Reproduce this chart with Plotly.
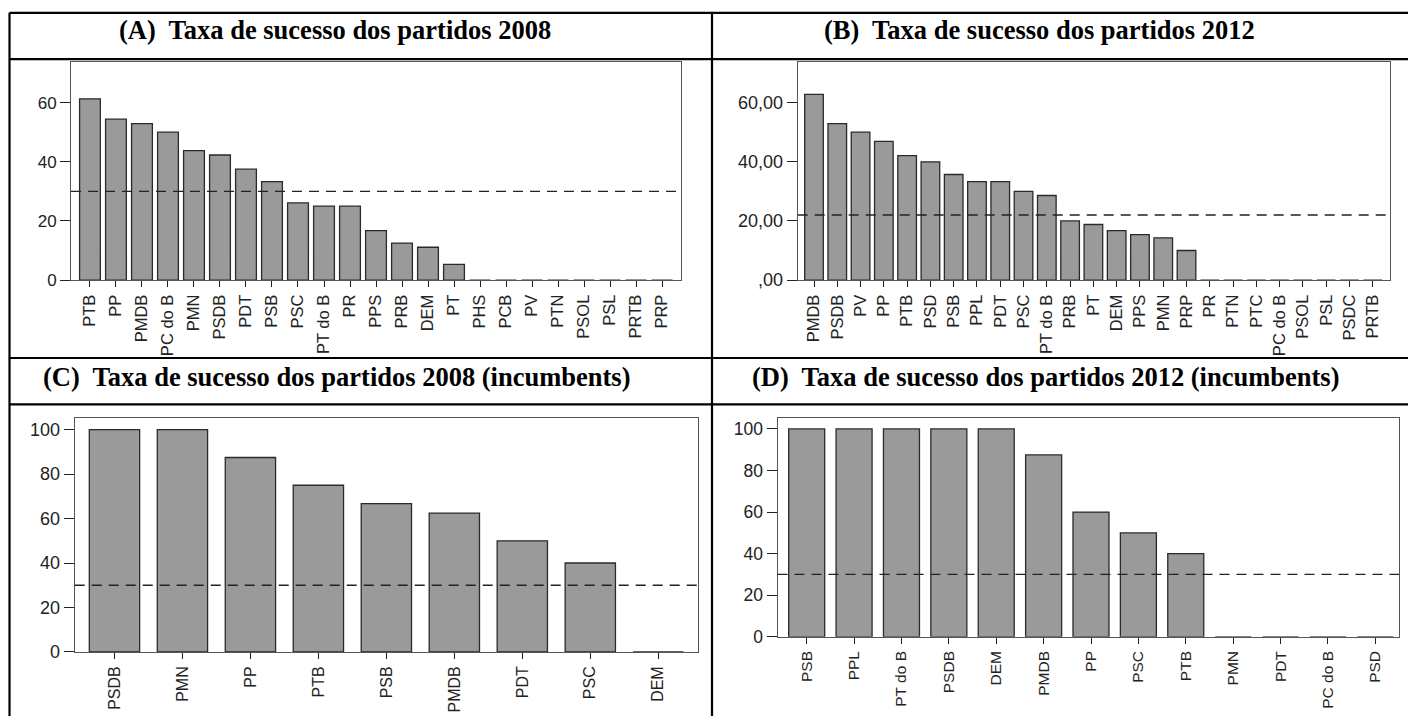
import plotly.graph_objects as go

W, H = 1408, 726

# ---------------- data ----------------
cats_a = ["PTB", "PP", "PMDB", "PC do B", "PMN", "PSDB", "PDT", "PSB", "PSC", "PT do B", "PR",
          "PPS", "PRB", "DEM", "PT", "PHS", "PCB", "PV", "PTN", "PSOL", "PSL", "PRTB", "PRP"]
vals_a = [61.3, 54.4, 52.9, 50.0, 43.8, 42.3, 37.5, 33.3, 26.1, 25.0, 25.0,
          16.7, 12.5, 11.1, 5.3, 0, 0, 0, 0, 0, 0, 0, 0]
ref_a = 30

cats_b = ["PMDB", "PSDB", "PV", "PP", "PTB", "PSD", "PSB", "PPL", "PDT", "PSC", "PT do B",
          "PRB", "PT", "DEM", "PPS", "PMN", "PRP", "PR", "PTN", "PTC", "PC do B", "PSOL",
          "PSL", "PSDC", "PRTB"]
vals_b = [62.8, 52.9, 50.0, 46.9, 42.1, 40.0, 35.7, 33.3, 33.3, 30.0, 28.6,
          20.0, 18.8, 16.7, 15.4, 14.3, 10.0, 0, 0, 0, 0, 0, 0, 0, 0]
ref_b = 22

cats_c = ["PSDB", "PMN", "PP", "PTB", "PSB", "PMDB", "PDT", "PSC", "DEM"]
vals_c = [100, 100, 87.5, 75.0, 66.7, 62.5, 50.0, 40.0, 0]
ref_c = 30

cats_d = ["PSB", "PPL", "PT do B", "PSDB", "DEM", "PMDB", "PP", "PSC", "PTB",
          "PMN", "PDT", "PC do B", "PSD"]
vals_d = [100, 100, 100, 100, 100, 87.5, 60.0, 50.0, 40.0, 0, 0, 0, 0]
ref_d = 30

titles = ["(A)\u00a0 Taxa de sucesso dos partidos 2008",
          "(B)\u00a0 Taxa de sucesso dos partidos 2012",
          "(C)\u00a0 Taxa de sucesso dos partidos 2008 (incumbents)",
          "(D)\u00a0 Taxa de sucesso dos partidos 2012 (incumbents)"]

yticks_ab = [0, 20, 40, 60]
yticktext_b = [",00", "20,00", "40,00", "60,00"]
yticks_cd = [0, 20, 40, 60, 80, 100]

# ---------------- layout helpers ----------------
def px_x(x):
    return x / W

def px_y(y):
    return 1 - y / H

panels = [
    dict(c=cats_a, v=vals_a, r=ref_a, box=(71, 681, 63, 284), yr=73.7, pad=(0.73, 0.73),
         gap=0.2, xf=16.5, yf=17, tv=yticks_ab, tt=[str(t) for t in yticks_ab]),
    dict(c=cats_b, v=vals_b, r=ref_b, box=(797.7, 1390, 63, 284), yr=73.7, pad=(0.70, 0.74),
         gap=0.2, xf=16.5, yf=18, tv=yticks_ab, tt=yticktext_b),
    dict(c=cats_c, v=vals_c, r=ref_c, box=(74.7, 697.7, 424, 661), yr=105.2, pad=(0.585, 0.58),
         gap=0.26, xf=16, yf=18, tv=yticks_cd, tt=[str(t) for t in yticks_cd]),
    dict(c=cats_d, v=vals_d, r=ref_d, box=(777.5, 1399, 424, 645.7), yr=105.2, pad=(0.616, 0.5),
         gap=0.24, xf=15.5, yf=17.5, tv=yticks_cd, tt=[str(t) for t in yticks_cd]),
]

fig = go.Figure()
shapes = []
layout = {}
for i, p in enumerate(panels, start=1):
    sfx = "" if i == 1 else str(i)
    xa, ya = "x" + sfx, "y" + sfx
    fig.add_trace(go.Bar(
        x=p["c"], y=p["v"], xaxis=xa, yaxis=ya, width=1 - p["gap"],
        marker=dict(color="#9a9a9a", line=dict(color="#2a2a2a", width=1.3)),
        showlegend=False, hoverinfo="x+y"))
    l, r, t, b = p["box"]
    n = len(p["c"])
    layout["xaxis" + sfx] = dict(
        domain=[px_x(l), px_x(r)], anchor=ya, type="category",
        range=[-p["pad"][0], n - 1 + p["pad"][1]],
        showline=True, mirror=True, linecolor="#555555", linewidth=1,
        ticks="outside", ticklen=6, tickcolor="#222222", tickwidth=1,
        tickangle=-90, ticklabelstandoff=1,
        tickfont=dict(family="Liberation Sans, Arial", size=p["xf"], color="#222222"),
        showgrid=False, zeroline=False, fixedrange=True)
    layout["yaxis" + sfx] = dict(
        domain=[px_y(b), px_y(t)], anchor=xa, range=[0, p["yr"]],
        showline=True, mirror=True, linecolor="#555555", linewidth=1,
        ticks="outside", ticklen=10, tickcolor="#222222", tickwidth=1,
        tickvals=p["tv"], ticktext=p["tt"], ticklabelstandoff=0,
        tickfont=dict(family="Liberation Sans, Arial", size=p["yf"], color="#222222"),
        showgrid=False, zeroline=False, fixedrange=True)
    shapes.append(dict(type="line", xref=xa + " domain", yref=ya, x0=0, x1=1,
                       y0=p["r"], y1=p["r"], line=dict(color="#222222", width=1.3, dash="10px,7px")))

# table grid lines
lc = dict(color="black", width=2.2)
for y in (13, 60, 363, 410):
    shapes.append(dict(type="line", xref="paper", yref="paper", x0=px_x(9.5), x1=1.0,
                       y0=px_y(y), y1=px_y(y), line=lc, layer="above"))
for x in (9.5, 712):
    shapes.append(dict(type="line", xref="paper", yref="paper", x0=px_x(x), x1=px_x(x),
                       y0=px_y(13), y1=0, line=lc, layer="above"))

annotations = []
title_pos = [(117, 30), (822, 30), (41, 382), (750, 382)]
for ttl, (x, y) in zip(titles, title_pos):
    annotations.append(dict(text="<b>" + ttl + "</b>", xref="paper", yref="paper",
                            x=px_x(x), y=px_y(y), xanchor="left", yanchor="middle",
                            showarrow=False,
                            font=dict(family="Liberation Serif, Times New Roman", size=26.5, color="black")))

fig.update_layout(
    width=W, height=H, margin=dict(l=0, r=0, t=0, b=0),
    paper_bgcolor="white", plot_bgcolor="white",
    shapes=shapes, annotations=annotations, **layout)

fig.write_html("out.html", config={"displayModeBar": False},
               post_script="document.body.style.margin='0';document.body.style.overflow='hidden';")
